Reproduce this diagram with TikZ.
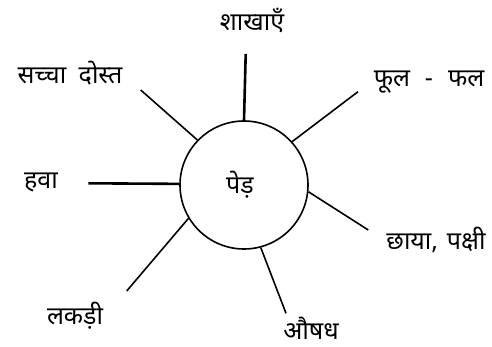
\documentclass[tikz,border=0pt]{standalone}
\usepackage{fontspec}
\newfontfamily\hindifont[Script=Devanagari]{Noto Sans}
\usetikzlibrary{positioning}

\begin{document}
\begin{tikzpicture}[x=1pt, y=-1pt, font=\hindifont\fontsize{25}{29}\selectfont]
    \tikzstyle{spoke}=[line width=1.6pt]
    \tikzstyle{thickspoke}=[line width=2.6pt]
    \tikzstyle{word}=[inner sep=0pt, anchor=center]
    \useasboundingbox (0,0) rectangle (492,347);

    \node[draw, circle, line width=1.6pt, minimum size=128pt, inner sep=0pt] (tree) at (244,185) {};
    \node[word] (treelabel) at (240,185) {पेड़};

    \coordinate (top) at (245.7,54);
    \coordinate (upleft) at (140.7,90);
    \coordinate (upright) at (358,91.7);
    \coordinate (left) at (88.3,183.3);
    \coordinate (right) at (368.3,230);
    \coordinate (downright) at (286,313.3);
    \coordinate (downleft) at (126.7,291);

    \draw[thickspoke] (tree.90) -- (top);
    \draw[spoke] (tree.136) -- (upleft);
    \draw[spoke] (tree.42) -- (upright);
    \draw[thickspoke] (tree.179) -- (left);
    \draw[spoke] (tree.-6) -- (right);
    \draw[spoke] (tree.-75) -- (downright);
    \draw[spoke] (tree.-149) -- (downleft);

    \node[word] (branches) at (252,20) {शाखाएँ};
    \node[word] (friend) at (70,73) {सच्चा\hspace{0.5em}दोस्त};
    \node[word] (fruit) at (429,82) {फूल\hspace{0.6em}-\hspace{0.6em}फल};
    \node[word] (air) at (41,183) {हवा};
    \node[word] (shade) at (436,240) {छाया,\hspace{0.35em}पक्षी};
    \node[word] (wood) at (75,316) {लकड़ी};
    \node[word] (medicine) at (311,328) {औषध};
\end{tikzpicture}
\end{document}
